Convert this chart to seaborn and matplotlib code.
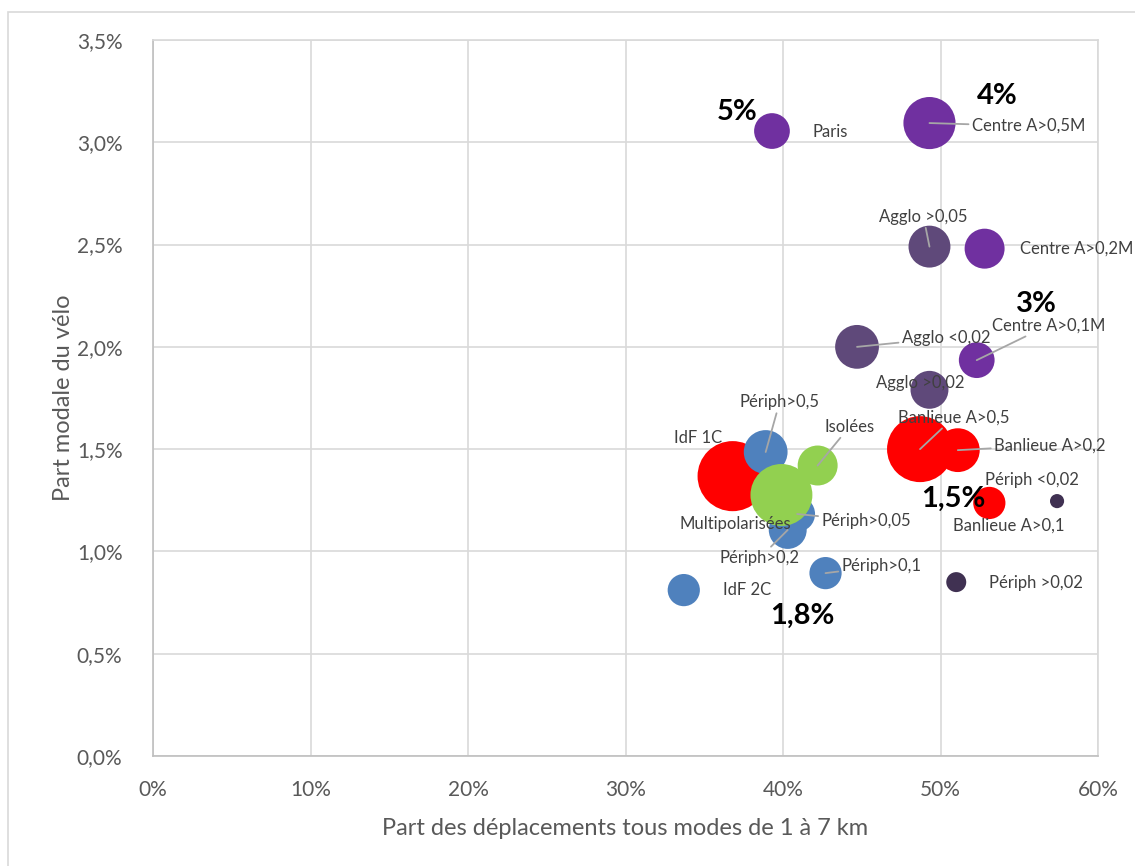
import matplotlib
matplotlib.use("Agg")
import matplotlib.pyplot as plt
import matplotlib.ticker as mticker
from matplotlib.patches import Rectangle
import pandas as pd
import seaborn as sns

# Points (x = part des déplacements 1-7 km en %, y = part modale vélo en %)
labels = ["IdF 1C", "Banlieue A>0,5", "Banlieue A>0,2", "Banlieue A>0,1",
          "Périph>0,5", "Périph>0,05", "Périph>0,2", "Périph>0,1", "IdF 2C",
          "Isolées", "Multipolarisées",
          "Agglo >0,05", "Agglo <0,02", "Agglo >0,02",
          "Paris", "Centre A>0,5M", "Centre A>0,2M", "Centre A>0,1M",
          "Périph <0,02", "Périph >0,02"]
part_1_7km = [36.8, 48.7, 51.1, 53.1,
              38.9, 40.9, 40.3, 42.7, 33.7,
              42.2, 39.9,
              49.3, 44.7, 49.3,
              39.3, 49.3, 52.8, 52.3,
              57.4, 51.0]
part_velo = [1.368, 1.50, 1.495, 1.237,
             1.486, 1.183, 1.105, 0.894, 0.811,
             1.42, 1.276,
             2.49, 2.00, 1.79,
             3.055, 3.094, 2.48, 1.935,
             1.246, 0.85]
poids = [12.3, 10.9, 4.8, 2.6,
         4.8, 3.2, 3.6, 2.6, 2.6,
         4.0, 9.6,
         4.4, 4.8, 3.6,
         3.2, 6.8, 4.0, 3.2,
         0.5, 1.0]
groupe = ["banlieue", "banlieue", "banlieue", "banlieue",
          "periph", "periph", "periph", "periph", "periph",
          "rural", "rural",
          "agglo", "agglo", "agglo",
          "centre", "centre", "centre", "centre",
          "periph_agglo", "periph_agglo"]

# big bold annotations (text, x %, y %)
gros_textes = ["5%", "4%", "3%", "1,5%", "1,8%"]
gros_x = [37.1, 53.6, 56.1, 50.8, 41.2]
gros_y = [3.148, 3.226, 2.209, 1.256, 0.684]

# label offsets in pixels from the bubble centre, and whether a leader line is drawn
label_dx = [-35, 34, 92, 19, 14, 69, -28, 56, 63, 32, -46, -6, 89, -9, 58, 99, 92, 72, -25, 80]
label_dy = [38, 32, 5, -23, 50, -7, -28, 7, 0, 39, -29, 30, 9, 7, -1, -3, 0, 35, 21, -1]
leader = [False, True, True, False, True, True, True, True, False, True, False,
          True, True, False, False, True, False, True, False, False]

palette = {"banlieue": "#FF0000", "periph": "#4F81BD", "rural": "#92D050",
           "agglo": "#5F497A", "centre": "#7030A0", "periph_agglo": "#403152"}

df = pd.DataFrame({"label": labels, "x": part_1_7km, "y": part_velo,
                   "poids": poids, "groupe": groupe})

sns.set_style("white")
plt.rcParams["font.family"] = ["Lato", "DejaVu Sans"]

fig = plt.figure(figsize=(11.35, 8.66), dpi=100)
ax = fig.add_axes([153 / 1135, 1 - 756 / 866, 945 / 1135, 716 / 866])

# outer chart border
fig.patches.append(Rectangle((8 / 1135, -0.05), 1.1, 1 - 12 / 866 + 0.05,
                             transform=fig.transFigure, fill=False,
                             edgecolor="#D9D9D9", lw=1.2))

wmax = max(poids)
sns.scatterplot(data=df, x="x", y="y", hue="groupe", palette=palette,
                size="poids", sizes=(0, 207 * wmax), size_norm=(0, wmax),
                linewidth=0, alpha=1, legend=False, ax=ax, zorder=3)

for i, lab in enumerate(labels):
    kw = {}
    if leader[i]:
        kw["arrowprops"] = dict(arrowstyle="-", color="#A6A6A6", lw=1.3,
                                shrinkA=0, shrinkB=0)
    ax.annotate(lab, xy=(part_1_7km[i], part_velo[i]),
                xytext=(label_dx[i], label_dy[i]), textcoords="offset pixels",
                ha="center", va="center", fontsize=12, color="#404040",
                zorder=5, annotation_clip=False, **kw)

for t, gx, gy in zip(gros_textes, gros_x, gros_y):
    ax.text(gx, gy, t, ha="center", va="center", fontsize=21,
            fontweight="bold", color="black", zorder=6)

ax.set_xlim(0, 60)
ax.set_ylim(0, 3.5)
ax.set_xticks(range(0, 61, 10))
ax.set_yticks([0, 0.5, 1.0, 1.5, 2.0, 2.5, 3.0, 3.5])
ax.xaxis.set_major_formatter(mticker.FuncFormatter(lambda v, p: f"{v:.0f}%"))
ax.yaxis.set_major_formatter(
    mticker.FuncFormatter(lambda v, p: f"{v:.1f}%".replace(".", ",")))
ax.grid(True, color="#D9D9D9", lw=1.2)
ax.set_axisbelow(True)
ax.tick_params(axis="both", length=0, labelsize=15, labelcolor="#595959")
ax.tick_params(axis="x", pad=17)
ax.tick_params(axis="y", pad=22)
for s in ["top", "right"]:
    ax.spines[s].set_color("#D9D9D9")
    ax.spines[s].set_linewidth(1.2)
for s in ["left", "bottom"]:
    ax.spines[s].set_color("#BFBFBF")
    ax.spines[s].set_linewidth(1.2)

ax.set_xlabel("Part des déplacements tous modes de 1 à 7 km",
              fontsize=17, color="#595959", labelpad=13)
ax.set_ylabel("Part modale du vélo", fontsize=17, color="#595959", labelpad=2)

fig.savefig("out.png", dpi=100)
